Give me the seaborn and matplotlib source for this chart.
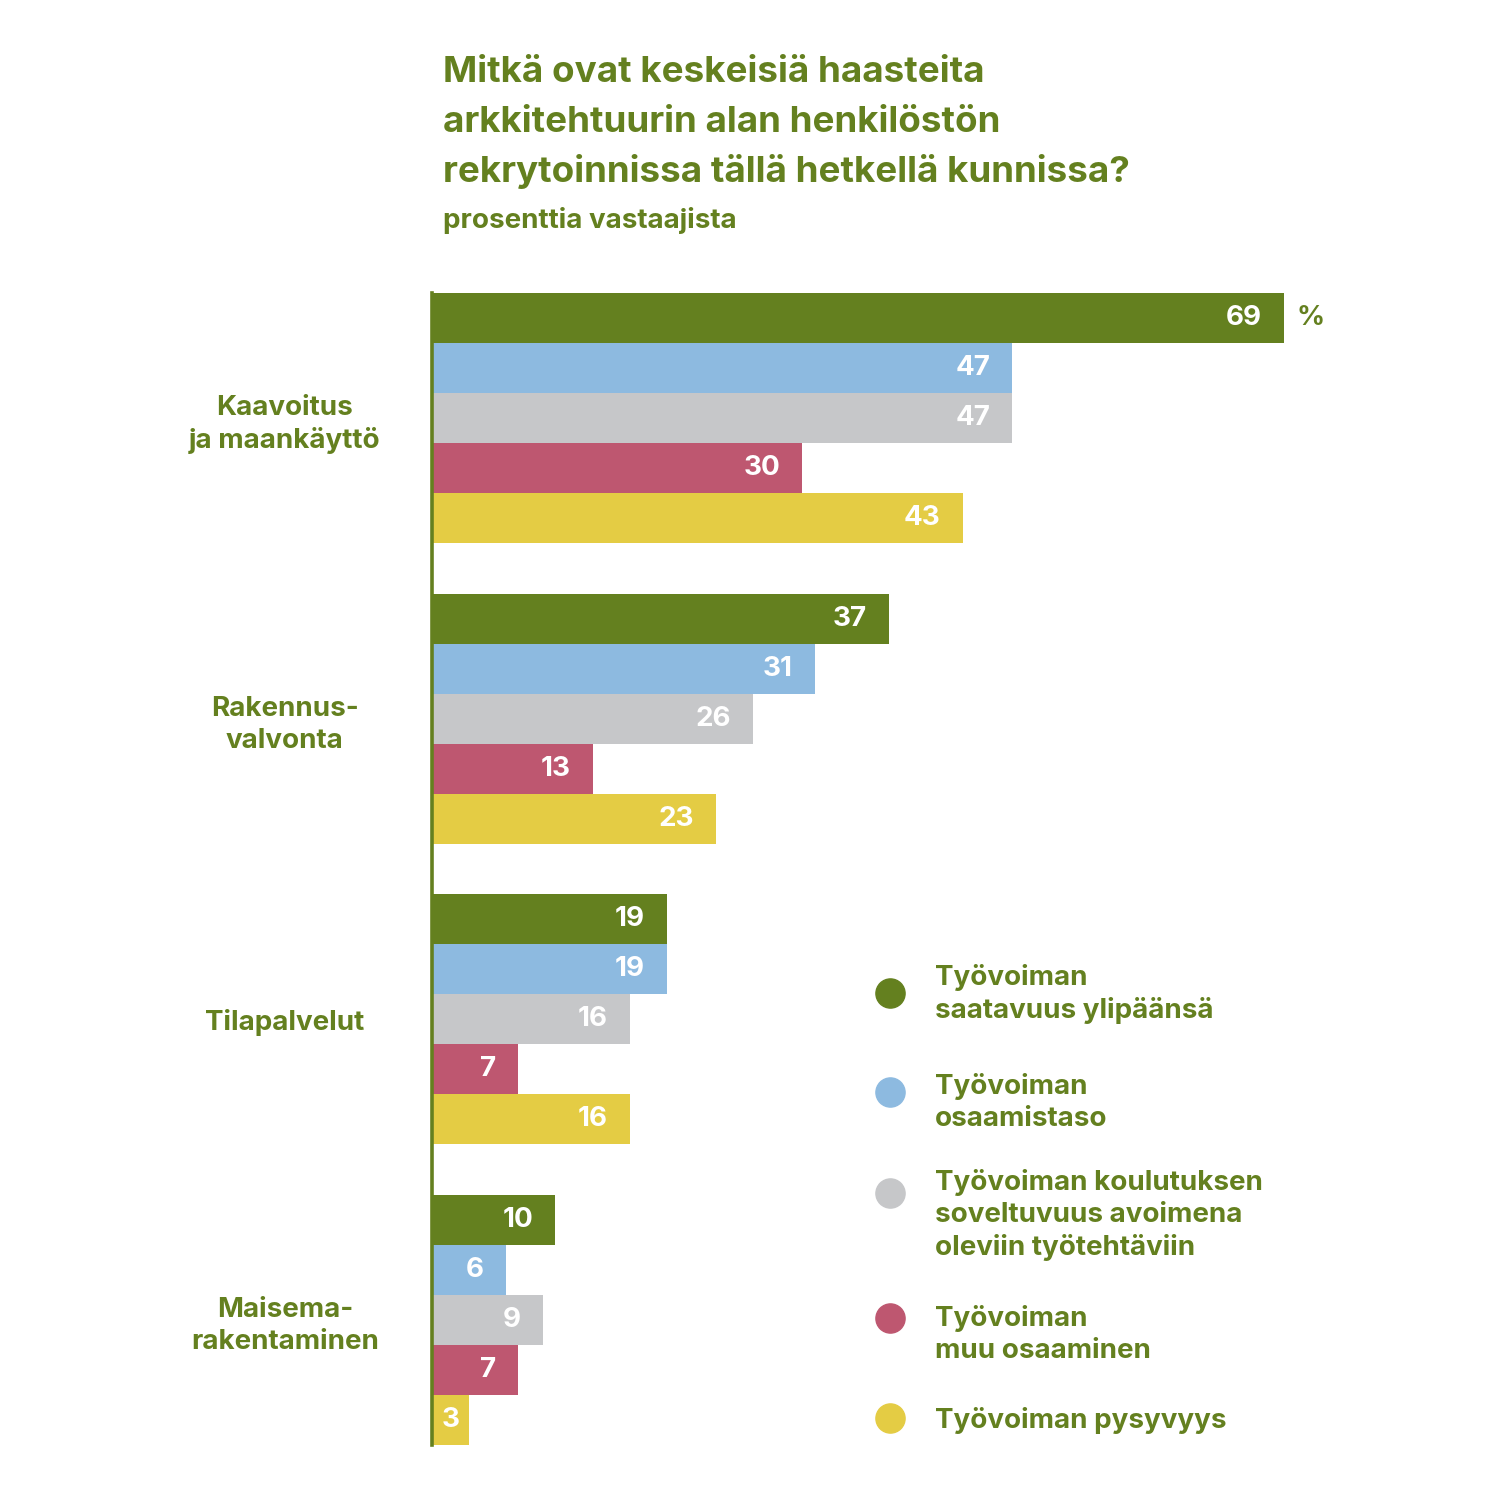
import matplotlib
matplotlib.use("Agg")
import matplotlib.pyplot as plt
import seaborn as sns
import pandas as pd
from matplotlib.lines import Line2D

categories = ["Kaavoitus\nja maankäyttö", "Rakennus-\nvalvonta", "Tilapalvelut", "Maisema-\nrakentaminen"]
series = [
    "Työvoiman\nsaatavuus ylipäänsä",
    "Työvoiman\nosaamistaso",
    "Työvoiman koulutuksen\nsoveltuvuus avoimena\noleviin työtehtäviin",
    "Työvoiman\nmuu osaaminen",
    "Työvoiman pysyvyys",
]
saatavuus = [69, 37, 19, 10]
osaamistaso = [47, 31, 19, 6]
koulutus = [47, 26, 16, 9]
muu = [30, 13, 7, 7]
pysyvyys = [43, 23, 16, 3]
colors = ["#64801F", "#8DBAE0", "#C6C7C9", "#BE5770", "#E4CC44"]
title_lines = ["Mitkä ovat keskeisiä haasteita",
               "arkkitehtuurin alan henkilöstön",
               "rekrytoinnissa tällä hetkellä kunnissa?"]
subtitle = "prosenttia vastaajista"

GREEN = "#64801F"
FONT = "Inter"

values = [saatavuus, osaamistaso, koulutus, muu, pysyvyys]
rows = []
for s, vals in zip(series, values):
    for c, v in zip(categories, vals):
        rows.append({"category": c, "series": s, "value": v})
df = pd.DataFrame(rows)

sns.set_theme(style="white")
plt.rcParams["font.family"] = [FONT, "DejaVu Sans"]

fig = plt.figure(figsize=(15, 15), dpi=100)
ax = fig.add_axes([0.288, 1 - 1445 / 1500, 926 / 1500, 1152 / 1500])

sns.barplot(data=df, y="category", x="value", hue="series", order=categories,
            hue_order=series, palette=colors, orient="h", width=0.833,
            dodge=True, ax=ax, legend=False, saturation=1, linewidth=0)

ax.set_xlim(0, 75)
ax.set_ylim(3.4167, -0.4167)
for sp in ["top", "right", "bottom"]:
    ax.spines[sp].set_visible(False)
ax.spines["left"].set_color(GREEN)
ax.spines["left"].set_linewidth(2.6)
ax.set_xticks([])
ax.set_xlabel("")
ax.set_ylabel("")
ax.tick_params(axis="y", length=0, pad=106)
for lab in ax.get_yticklabels():
    lab.set_ha("center")
    lab.set_multialignment("center")
    lab.set_color(GREEN)
    lab.set_fontsize(20)
    lab.set_fontweight("bold")
    lab.set_linespacing(1.3)

# value labels
for cont in ax.containers:
    for p in cont.patches:
        w = p.get_width()
        yc = p.get_y() + p.get_height() / 2
        off = 1.8 if w > 4 else 0.8
        ax.text(w - off, yc, f"{int(round(w))}", ha="right", va="center",
                color="white", fontsize=20, fontweight="bold")

# percent sign next to the largest bar
first = ax.containers[0].patches[0]
ax.text(first.get_width() + 1.0, first.get_y() + first.get_height() / 2, "%",
        ha="left", va="center", color=GREEN, fontsize=20, fontweight="bold")

# title
for line, base in zip(title_lines, [82, 132, 182]):
    fig.text(443 / 1500, 1 - base / 1500, line, ha="left", va="baseline",
             color=GREEN, fontsize=26.5, fontweight="bold")
fig.text(443 / 1500, 1 - 228 / 1500, subtitle, ha="left", va="baseline",
         color=GREEN, fontsize=20, fontweight="bold")

# legend (manual)
leg_text_y = [994, 1103, 1215, 1334, 1421]
leg_dot_y = [993, 1092, 1193, 1318, 1418]
for s, col, ty, dy in zip(series, colors, leg_text_y, leg_dot_y):
    fig.add_artist(Line2D([890 / 1500], [1 - dy / 1500], marker="o", markersize=21,
                          color=col, linestyle="none", transform=fig.transFigure))
    fig.text(935 / 1500, 1 - ty / 1500, s, ha="left", va="center",
             color=GREEN, fontsize=20, fontweight="bold", linespacing=1.3)

fig.savefig("out.png", dpi=100, facecolor="white")
